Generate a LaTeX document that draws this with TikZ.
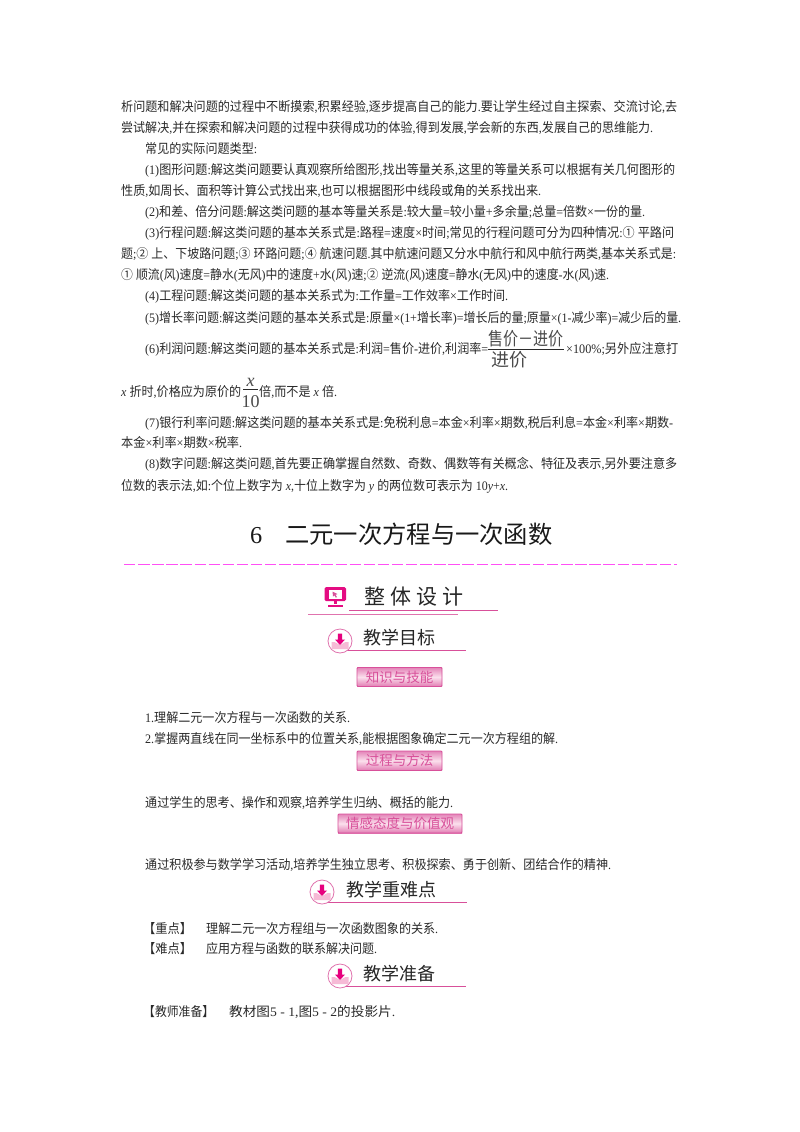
\documentclass[tikz,border=0pt]{standalone}
\usepackage{graphicx}
\usepackage{fontspec}
\setmainfont{Liberation Serif}
\newfontfamily\cj{Noto Sans CJK SC}
\usetikzlibrary{calc}
% automatic switch to the CJK font
\chardef\cjkclass=10
\newcount\cc
\cc="20 \loop \XeTeXcharclass\cc=0 \advance\cc 1 \ifnum\cc<"100 \repeat
\cc="2460 \loop \XeTeXcharclass\cc=\cjkclass \advance\cc 1 \ifnum\cc<"2500 \repeat
\cc="3000 \loop \XeTeXcharclass\cc=\cjkclass \advance\cc 1 \ifnum\cc<"3040 \repeat
\cc="4E00 \loop \XeTeXcharclass\cc=\cjkclass \advance\cc 1 \ifnum\cc<"A000 \repeat
\cc="FF00 \loop \XeTeXcharclass\cc=\cjkclass \advance\cc 1 \ifnum\cc<"FFF0 \repeat
\XeTeXinterchartokenstate=1
\XeTeXinterchartoks 0 \cjkclass={\begingroup\cj}
\XeTeXinterchartoks 4095 \cjkclass={\begingroup\cj}
\XeTeXinterchartoks \cjkclass 0 ={\endgroup}
\XeTeXinterchartoks \cjkclass 4095 ={\endgroup}
\definecolor{ink}{HTML}{2A2A2A}
\definecolor{rosea}{HTML}{D8509A}
\definecolor{roseb}{HTML}{E6007E}
\definecolor{rosec}{HTML}{F6BAD6}
\definecolor{dashc}{HTML}{FF50F5}
\tikzset{
  x=1pt,y=1pt,
  bodytext/.style={anchor=base west,inner sep=0pt,text=ink,font=\fontsize{13}{15}\selectfont},
  headtext/.style={anchor=base west,inner sep=0pt,text=black!85,font=\fontsize{18}{20}\selectfont},
  fractext/.style={anchor=base,inner sep=0pt,text=ink!85,font=\fontsize{18}{20}\selectfont},
  rule/.style={draw=rosea,line width=0.9pt},
  btntext/.style={anchor=center,inner sep=0pt,text=rosea,font=\fontsize{13.5}{16}\selectfont},
}
\newcommand{\pl}[5]{\node[bodytext] (#1) at (#2,{-(#3+4.5)}) {\resizebox{#4pt}{\height}{#5}};}
\newcommand{\bookicon}[2]{%
  \fill[white] (#1,#2) circle (12);
  \draw[rosea!80,line width=0.8pt] (#1,#2) circle (12);
  \fill[rosec] ($(#1,#2)+(-8.5,-1)$) -- ++(3,0) -- ++(5.5,-3) -- ++(5.5,3) -- ++(3,0) -- ++(0,-7) -- ++(-17,0) -- cycle;
  \fill[roseb] ($(#1,#2)+(-2.2,7.5)$) -- ++(4.4,0) -- ++(0,-6) -- ++(2.8,0) -- ++(-5,-5.5) -- ++(-5,5.5) -- ++(2.8,0) -- cycle;
}
\newcommand{\btn}[6]{%
  \shade[top color=rosea!70,bottom color=rosea!75,middle color=white!55!rosec]
    (#2,{-#3}) rectangle (#4,{-#5});
  \draw[rosea,line width=0.9pt,rounded corners=1pt] (#2,{-#3}) rectangle (#4,{-#5});
  \node[btntext] (#1) at ({(#2+#4)/2},{-(#3+#5)/2}) {#6};
}
\begin{document}
\begin{tikzpicture}
\useasboundingbox (0,0) rectangle (800,-1132);
\fill[white] (0,0) rectangle (800,-1132);
\pl{l1}{121}{107}{556}{析问题和解决问题的过程中不断摸索,积累经验,逐步提高自己的能力.要让学生经过自主探索、交流讨论,去}
\pl{l2}{121}{128}{532}{尝试解决,并在探索和解决问题的过程中获得成功的体验,得到发展,学会新的东西,发展自己的思维能力.}
\pl{l3}{145}{149}{112}{常见的实际问题类型:}
\pl{l4}{145}{170}{530}{(1)图形问题:解这类问题要认真观察所给图形,找出等量关系,这里的等量关系可以根据有关几何图形的}
\pl{l5}{121}{191}{420}{性质,如周长、面积等计算公式找出来,也可以根据图形中线段或角的关系找出来.}
\pl{l6}{145}{212}{500}{(2)和差、倍分问题:解这类问题的基本等量关系是:较大量=较小量+多余量;总量=倍数×一份的量.}
\pl{l7}{145}{233}{529}{(3)行程问题:解这类问题的基本关系式是:路程=速度×时间;常见的行程问题可分为四种情况:① 平路问}
\pl{l8}{121}{254}{555}{题;② 上、下坡路问题;③ 环路问题;④ 航速问题.其中航速问题又分水中航行和风中航行两类,基本关系式是:}
\pl{l9}{121}{275}{488}{① 顺流(风)速度=静水(无风)中的速度+水(风)速;② 逆流(风)速度=静水(无风)中的速度-水(风)速.}
\pl{l10}{145}{296}{363}{(4)工程问题:解这类问题的基本关系式为:工作量=工作效率×工作时间.}
\pl{l11}{145}{318}{536}{(5)增长率问题:解这类问题的基本关系式是:原量×(1+增长率)=增长后的量;原量×(1-减少率)=减少后的量.}
\pl{l12a}{145}{349}{343}{(6)利润问题:解这类问题的基本关系式是:利润=售价-进价,利润率=}
\node[fractext] (f1n) at (526,-345) {\resizebox{75pt}{\height}{售价－进价}};
\draw[ink,line width=0.7pt] (488,-349) -- (564,-349);
\node[fractext] (f1d) at (509,-366) {进价};
\pl{l12b}{566}{349}{112}{×100\%;另外应注意打}
\pl{l13a}{121}{392}{120}{\textit{x} 折时,价格应为原价的}
\node[fractext] (f2n) at (250.5,-386) {\textit{x}};
\draw[ink,line width=0.7pt] (243,-389) -- (258,-389);
\node[fractext] (f2d) at (250.5,-407) {10};
\pl{l13b}{259}{392}{78}{倍,而不是 \textit{x} 倍.}
\pl{l14}{145}{423}{528}{(7)银行利率问题:解这类问题的基本关系式是:免税利息=本金×利率×期数,税后利息=本金×利率×期数-}
\pl{l15}{121}{443}{121}{本金×利率×期数×税率.}
\pl{l16}{145}{464}{532}{(8)数字问题:解这类问题,首先要正确掌握自然数、奇数、偶数等有关概念、特征及表示,另外要注意多}
\pl{l17}{121}{486}{387}{位数的表示法,如:个位上数字为 \textit{x},十位上数字为 \textit{y} 的两位数可表示为 10\textit{y}+\textit{x}.}
% title
\node[anchor=base west,inner sep=0pt,text=black!90,font=\fontsize{24.3}{26}\selectfont] (titlenum) at (250,-543) {6};
\node[anchor=base west,inner sep=0pt,text=black!90,font=\fontsize{24.3}{26}\selectfont] (title) at (285,-543) {二元一次方程与一次函数};
\draw[dashc,line width=1.8pt,dash pattern=on 11.4pt off 2.7pt] (124,-564.5) -- (677,-564.5);
% overall design
\fill[roseb!85!rosea,rounded corners=1.5pt] (324.5,-587) rectangle (346,-601);
\fill[white] (329,-590) rectangle (341.5,-598.5);
\fill[rosea] (332.5,-591.5) -- (337.5,-594) -- (335.5,-594.8) -- (337,-597) -- (335.8,-597.6) -- (334.4,-595.4) -- (333,-596.5) -- cycle;
\fill[roseb!85!rosea] (334,-601) rectangle (336.5,-604);
\fill[roseb!85!rosea] (328,-604.5) rectangle (342.5,-607);
\node[anchor=base west,inner sep=0pt,text=black!85,font=\fontsize{21}{23}\selectfont] (design) at (364,-604.5) {整\kern5pt 体\kern5pt 设\kern5pt 计};
\draw[rule] (349,-610.5) -- (498,-610.5);
\draw[rule,draw=rosea!80] (308,-614.5) -- (458,-614.5);
% goals
\draw[rule] (345,-650.5) -- (466,-650.5);
\bookicon{340}{-641}
\node[headtext] (goals) at (363.5,-644.5) {教学目标};
\btn{skills}{357}{667.5}{442}{686.5}{知识与技能}
\pl{g1}{145}{718}{205}{1.理解二元一次方程与一次函数的关系.}
\pl{g2}{145}{739}{413}{2.掌握两直线在同一坐标系中的位置关系,能根据图象确定二元一次方程组的解.}
\btn{method}{357}{751}{442}{770.5}{过程与方法}
\pl{g3}{145}{803}{308}{通过学生的思考、操作和观察,培养学生归纳、概括的能力.}
\btn{value}{338}{814}{462}{833}{情感态度与价值观}
\pl{g4}{145}{865}{466}{通过积极参与数学学习活动,培养学生独立思考、积极探索、勇于创新、团结合作的精神.}
% key points
\draw[rule] (328,-902) -- (467,-902);
\bookicon{322}{-892}
\node[headtext] (keypts) at (346,-896.5) {教学重难点};
\pl{k1}{143}{929}{49}{【重点】}
\pl{k1b}{206}{929}{232}{理解二元一次方程组与一次函数图象的关系.}
\pl{k2}{143}{949}{49}{【难点】}
\pl{k2b}{206}{949}{171}{应用方程与函数的联系解决问题.}
% preparation
\draw[rule] (345,-986) -- (466,-986);
\bookicon{340}{-976}
\node[headtext] (prep) at (363.5,-980.5) {教学准备};
\pl{p1}{143}{1012}{71}{【教师准备】}
\pl{p1b}{229}{1012}{166}{教材图5 - 1,图5 - 2的投影片.}
\end{tikzpicture}
\end{document}
